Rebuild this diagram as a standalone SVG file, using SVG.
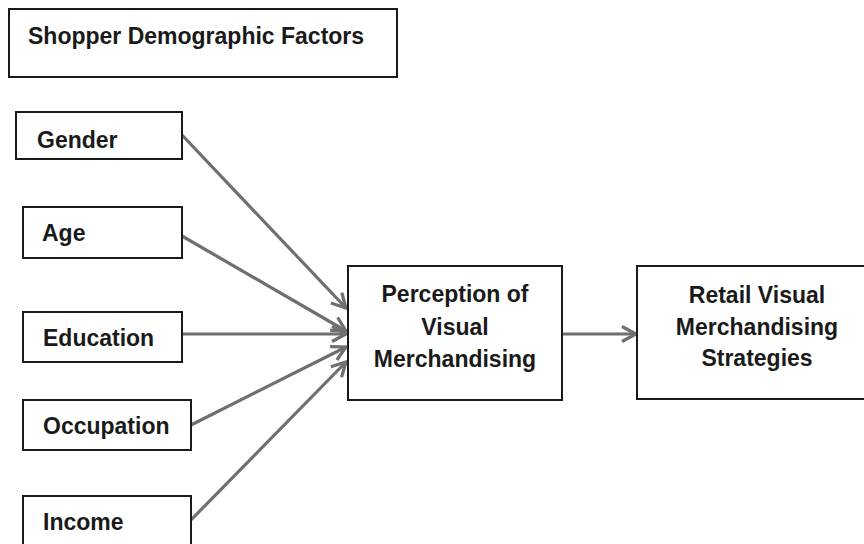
<svg xmlns="http://www.w3.org/2000/svg" width="864" height="544" viewBox="0 0 864 544">
<style>
.box{fill:#fff;stroke:#1a1a1a;stroke-width:2}
.t{font-family:"Liberation Sans",Arial,sans-serif;font-weight:bold;font-size:23px;fill:#1a1a1a}
.c{text-anchor:middle}
.ln{stroke:#6f6f6f;stroke-width:3.2;fill:none}
</style>
<defs>
<marker id="ah" markerWidth="20" markerHeight="20" refX="16" refY="9" orient="auto" markerUnits="userSpaceOnUse" overflow="visible">
<path d="M2,1.5 L16,9 L2,16.5" fill="none" stroke="#6f6f6f" stroke-width="3.2" stroke-linejoin="miter"/>
</marker>
</defs>
<rect width="864" height="544" fill="#fff"/>
<g id="title">
<rect class="box" x="9" y="9" width="388" height="68"/>
<text class="t" x="28" y="44">Shopper Demographic Factors</text>
</g>
<g id="connectors">
<line class="ln" x1="182" y1="135" x2="346" y2="308" marker-end="url(#ah)"/>
<line class="ln" x1="182" y1="236" x2="346" y2="331" marker-end="url(#ah)"/>
<line class="ln" x1="182" y1="334" x2="346" y2="334" marker-end="url(#ah)"/>
<line class="ln" x1="191" y1="425" x2="346" y2="347" marker-end="url(#ah)"/>
<line class="ln" x1="191" y1="520" x2="346" y2="362" marker-end="url(#ah)"/>
<line class="ln" x1="562" y1="334" x2="636" y2="334" marker-end="url(#ah)"/>
</g>
<g id="gender">
<rect class="box" x="16" y="112" width="166" height="47"/>
<text class="t" x="37" y="148">Gender</text>
</g>
<g id="age">
<rect class="box" x="23" y="207" width="159" height="51"/>
<text class="t" x="42" y="241">Age</text>
</g>
<g id="education">
<rect class="box" x="23" y="312" width="159" height="50"/>
<text class="t" x="43" y="346">Education</text>
</g>
<g id="occupation">
<rect class="box" x="23" y="400" width="168" height="50"/>
<text class="t" x="43" y="434">Occupation</text>
</g>
<g id="income">
<rect class="box" x="23" y="496" width="168" height="60"/>
<text class="t" x="43" y="530">Income</text>
</g>
<g id="perception">
<rect class="box" x="348" y="266" width="214" height="134"/>
<text class="t c" x="455" y="302">Perception of</text>
<text class="t c" x="455" y="335">Visual</text>
<text class="t c" x="455" y="367">Merchandising</text>
</g>
<g id="retail">
<rect class="box" x="637" y="266" width="241" height="133"/>
<text class="t c" x="757" y="303">Retail Visual</text>
<text class="t c" x="757" y="335">Merchandising</text>
<text class="t c" x="757" y="366">Strategies</text>
</g>
</svg>
